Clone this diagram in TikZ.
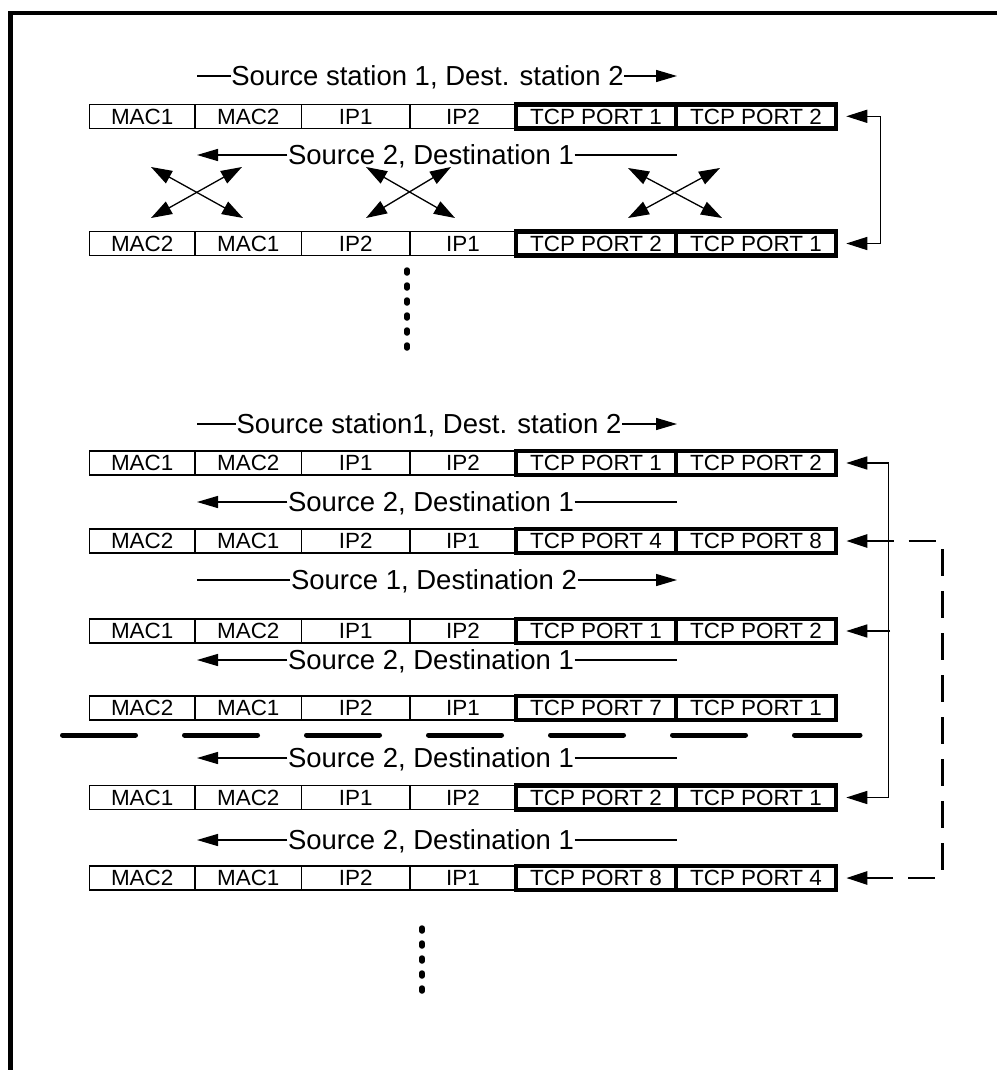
\documentclass[tikz,border=0pt]{standalone}
\usepackage{fontspec}
\setmainfont{Liberation Sans}
\newfontfamily\cellfont[FakeStretch=1.02]{Liberation Sans}
\usetikzlibrary{arrows.meta}
\newcommand{\pktrow}[8]{%
  \node[thincell, minimum width=105.7pt] (#1a) at (142.2,#2) {#3};
  \node[thincell, minimum width=106.7pt] (#1b) at (248.3,#2) {#4};
  \node[thincell, minimum width=108.3pt] (#1c) at (355.8,#2) {#5};
  \node[thincell, minimum width=106pt] (#1d) at (463,#2) {#6};
  \node[thickcell, minimum width=160pt] (#1e) at (596,#2) {#7};
  \node[thickcell, minimum width=160pt] (#1f) at (756,#2) {#8};
}
\begin{document}
\begin{tikzpicture}[x=1pt,y=-1pt,
  thincell/.style={draw, line width=1.4pt, minimum height=24pt, inner sep=0pt, text height=15.7pt, text depth=0pt, font=\cellfont\fontsize{22}{22}\selectfont},
  thickcell/.style={thincell, line width=4.5pt},
  lbl/.style={inner sep=0.6pt, text depth=0pt, font=\fontsize{27.5}{27.5}\selectfont},
  lline/.style={line width=1.4pt},
  tip/.style={-{Triangle[length=21pt,width=12pt]}},
  rtip/.style={-{Triangle[length=21pt,width=13pt]}},
  btip/.style={{Triangle[length=21pt,width=13pt]}-{Triangle[length=21pt,width=13pt]}},
  xarrow/.style={line width=1.3pt, {Triangle[length=21pt,width=14pt]}-{Triangle[length=21pt,width=14pt]}},
  dots/.style={line width=5.5pt, line cap=round, dash pattern=on 3pt off 12pt},
]
\useasboundingbox (0,0) rectangle (997,1070);
% frame
\coordinate (fr1) at (997,12.8);
\coordinate (fr2) at (10.5,12.8);
\coordinate (fr3) at (10.5,1070);
\draw[line width=4.5pt, line join=miter] (fr1) -- (fr2) -- (fr3);

% ---------- top section ----------
\node[lbl] (t1) at (427.5,76) {Source station 1, Dest. station 2};
\coordinate (t1s) at (197,76); \coordinate (t1e) at (677,76);
\draw[lline] (t1s) -- (t1.west);
\draw[lline, tip] (t1.east) -- (t1e);

\pktrow{r1}{116.3}{MAC1}{MAC2}{IP1}{IP2}{TCP PORT 1}{TCP PORT 2}

\node[lbl] (t2) at (431,155) {Source 2, Destination 1};
\coordinate (t2s) at (197,155); \coordinate (t2e) at (677,155);
\draw[lline, tip] (t2.west) -- (t2s);
\draw[lline] (t2.east) -- (t2e);

% crossing arrows
\coordinate (xa1) at (151,167); \coordinate (xa2) at (243,218);
\coordinate (xa3) at (242,167); \coordinate (xa4) at (151,218);
\draw[xarrow] (xa1) -- (xa2);
\draw[xarrow] (xa3) -- (xa4);
\coordinate (xb1) at (366,167); \coordinate (xb2) at (455,218);
\coordinate (xb3) at (451,167); \coordinate (xb4) at (366,218);
\draw[xarrow] (xb1) -- (xb2);
\draw[xarrow] (xb3) -- (xb4);
\coordinate (xc1) at (628,168); \coordinate (xc2) at (722,218);
\coordinate (xc3) at (720,168); \coordinate (xc4) at (628,218);
\draw[xarrow] (xc1) -- (xc2);
\draw[xarrow] (xc3) -- (xc4);

\pktrow{r2}{243.5}{MAC2}{MAC1}{IP2}{IP1}{TCP PORT 2}{TCP PORT 1}

\draw[lline, btip, shorten <=8pt, shorten >=8pt] (r1f.east) -- ++(42,0) |- (r2f.east);

\coordinate (d1a) at (407,270);
\coordinate (d1b) at (407,350);
\draw[dots] (d1a) -- (d1b);

% ---------- second section ----------
\node[lbl] (s1) at (429,424) {Source station1, Dest. station 2};
\coordinate (s1s) at (197,424); \coordinate (s1e) at (677,424);
\draw[lline] (s1s) -- (s1.west);
\draw[lline, tip] (s1.east) -- (s1e);

\pktrow{ra}{463}{MAC1}{MAC2}{IP1}{IP2}{TCP PORT 1}{TCP PORT 2}

\node[lbl] (s2) at (431,502) {Source 2, Destination 1};
\coordinate (s2s) at (197,502); \coordinate (s2e) at (677,502);
\draw[lline, tip] (s2.west) -- (s2s);
\draw[lline] (s2.east) -- (s2e);

\pktrow{rb}{541}{MAC2}{MAC1}{IP2}{IP1}{TCP PORT 4}{TCP PORT 8}

\node[lbl] (s3) at (434,580) {Source 1, Destination 2};
\coordinate (s3s) at (197,580); \coordinate (s3e) at (677,580);
\draw[lline] (s3s) -- (s3.west);
\draw[lline, tip] (s3.east) -- (s3e);

\pktrow{rc}{631}{MAC1}{MAC2}{IP1}{IP2}{TCP PORT 1}{TCP PORT 2}

\node[lbl] (s4) at (431,660) {Source 2, Destination 1};
\coordinate (s4s) at (197,660); \coordinate (s4e) at (677,660);
\draw[lline, tip] (s4.west) -- (s4s);
\draw[lline] (s4.east) -- (s4e);

\pktrow{rd}{708}{MAC2}{MAC1}{IP2}{IP1}{TCP PORT 7}{TCP PORT 1}

% separator
\coordinate (sepa) at (62.5,735);
\coordinate (sepb) at (860,735);
\draw[line width=5pt, line cap=round, dash pattern=on 73pt off 49pt] (sepa) -- (sepb);

\node[lbl] (s5) at (431,758) {Source 2, Destination 1};
\coordinate (s5s) at (197,758); \coordinate (s5e) at (677,758);
\draw[lline, tip] (s5.west) -- (s5s);
\draw[lline] (s5.east) -- (s5e);

\pktrow{re}{797.5}{MAC1}{MAC2}{IP1}{IP2}{TCP PORT 2}{TCP PORT 1}

\node[lbl] (s6) at (431,840) {Source 2, Destination 1};
\coordinate (s6s) at (197,840); \coordinate (s6e) at (677,840);
\draw[lline, tip] (s6.west) -- (s6s);
\draw[lline] (s6.east) -- (s6e);

\pktrow{rf}{878}{MAC2}{MAC1}{IP2}{IP1}{TCP PORT 8}{TCP PORT 4}

% right-side connectors
\draw[lline, btip, shorten <=8pt, shorten >=8pt] (raf.east) -- ++(50,0) |- (ref.east);
\coordinate (cj) at (890,631);
\draw[lline, rtip, shorten >=8pt] (cj) -- (rcf.east);
\draw[line width=2.5pt, dash pattern=on 27pt off 15pt, btip, shorten <=8pt, shorten >=8pt] (rbf.east) -- ++(104,0) |- (rff.east);

\coordinate (d2a) at (422,928);
\coordinate (d2b) at (422,1000);
\draw[dots] (d2a) -- (d2b);
\end{tikzpicture}
\end{document}
